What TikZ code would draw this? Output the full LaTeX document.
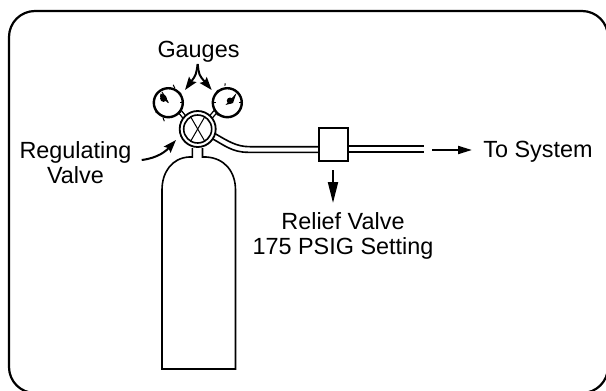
\documentclass[tikz,border=0pt]{standalone}
\usepackage{fontspec}
\setmainfont{Liberation Sans}
\usetikzlibrary{arrows.meta}
\tikzset{
  line/.style={line width=1.6pt},
  pointer/.style={line width=2pt, -{Stealth[length=13pt,width=9pt,inset=2pt]}},
  label/.style={font=\fontsize{23.4}{25.5}\selectfont, align=center},
  gauge/.style={circle, draw, line width=2.4pt, minimum size=29pt, inner sep=0pt, fill=white},
}
\begin{document}
\begin{tikzpicture}[x=1pt, y=-1pt]
  \useasboundingbox (0,0) rectangle (606,391);
  % frame
  \draw[line width=2.2pt, rounded corners=26pt] (9,393) rectangle (608,11);
  % cylinder
  \draw[line] (192.3,148) -- (192.3,157) -- (189,157) .. controls (172,158) and (162,172) .. (162,190)
    -- (162,369) -- (235.5,369) -- (235.5,190) .. controls (235.5,172) and (225,158) .. (206,157)
    -- (202.5,157) -- (202.5,148);
  % pipe
  \node[draw, line width=1.6pt, minimum width=29pt, minimum height=33pt, inner sep=0pt] (relief) at (333.5,144.5) {};
  \coordinate (upperL) at (relief.west |- 0,146.7);
  \coordinate (lowerL) at (relief.west |- 0,152.3);
  \coordinate (upperR) at (relief.east |- 0,146.2);
  \coordinate (lowerR) at (relief.east |- 0,152);
  \coordinate (endU) at (424,146.2);
  \coordinate (endL) at (424,152);
  \draw[line] (214,133) .. controls (228,141) and (236,146.7) .. (250,146.7) -- (upperL);
  \draw[line] (211,138) .. controls (224,145) and (232,152.3) .. (248,152.3) -- (lowerL);
  \draw[line] (upperR) -- (endU);
  \draw[line] (lowerR) -- (endL);
  % gauge stems
  \draw[line width=1.2pt] (178,112) -- (186,122);
  \draw[line width=1.2pt] (181,110) -- (189,120);
  \draw[line width=1.2pt] (217.5,112) -- (209,122);
  \draw[line width=1.2pt] (214.5,110) -- (206,120);
  % valve
  \node[circle, draw, line width=1.8pt, minimum size=36pt, inner sep=0pt, fill=white] (valve) at (197.7,129) {};
  \node[circle, draw, line width=1.6pt, minimum size=28pt, inner sep=0pt] (valvein) at (197.7,129) {};
  \draw[line width=1pt] (valvein.60) -- (valvein.240);
  \draw[line width=1pt] (valvein.120) -- (valvein.300);
  % gauges
  \node[gauge] (gaugeL) at (168.3,102.7) {};
  \node[gauge] (gaugeR) at (227.3,102.7) {};
  \foreach \a in {-35,0,35,65,215,250}
    \draw[line width=1pt] (gaugeL.\a) -- ++(\a+180:4);
  \foreach \a in {-35,0,35,100,140,180,220}
    \draw[line width=1pt] (gaugeR.\a) ++(\a+180:1.5) -- ++(\a+180:2.5);
  \draw[line width=1pt] (gaugeL.center) -- (162,92);
  \fill (163.5,98.5) circle (3.4pt);
  \fill (168.5,103) -- (160,97) -- (160.5,93.5) -- (165,95) -- cycle;
  \fill (230,100.7) circle (3.2pt);
  \fill (225.5,105) -- (236.5,93) -- (233,103) -- cycle;
  % labels
  \node[label] (gauges) at (198.5,51.5) {Gauges};
  \node[label] (regulating) at (75.5,162.5) {Regulating\\Valve};
  \node[label] (system) at (538,152) {To System};
  \node[label] (reliefText) at (343,236) {Relief Valve\\175 PSIG Setting};
  % arrows
  \coordinate (fork) at (197.7,64);
  \draw[pointer] (fork) .. controls (196,75) .. (185,90);
  \draw[pointer] (fork) .. controls (199,75) .. (211.7,90);
  \coordinate (curveS) at (141.7,160);
  \draw[pointer] (curveS) .. controls (158,158) and (166,151) .. (176,140);
  \coordinate (sysS) at (432,150);
  \coordinate (sysE) at (472,150);
  \draw[line width=2pt, -{Triangle[length=14pt,width=8pt]}] (sysS) -- (sysE);
  \coordinate (downS) at (333,170);
  \coordinate (downE) at (333,203);
  \draw[line width=2pt, -{Triangle[length=21pt,width=10pt]}] (downS) -- (downE);
\end{tikzpicture}
\end{document}
